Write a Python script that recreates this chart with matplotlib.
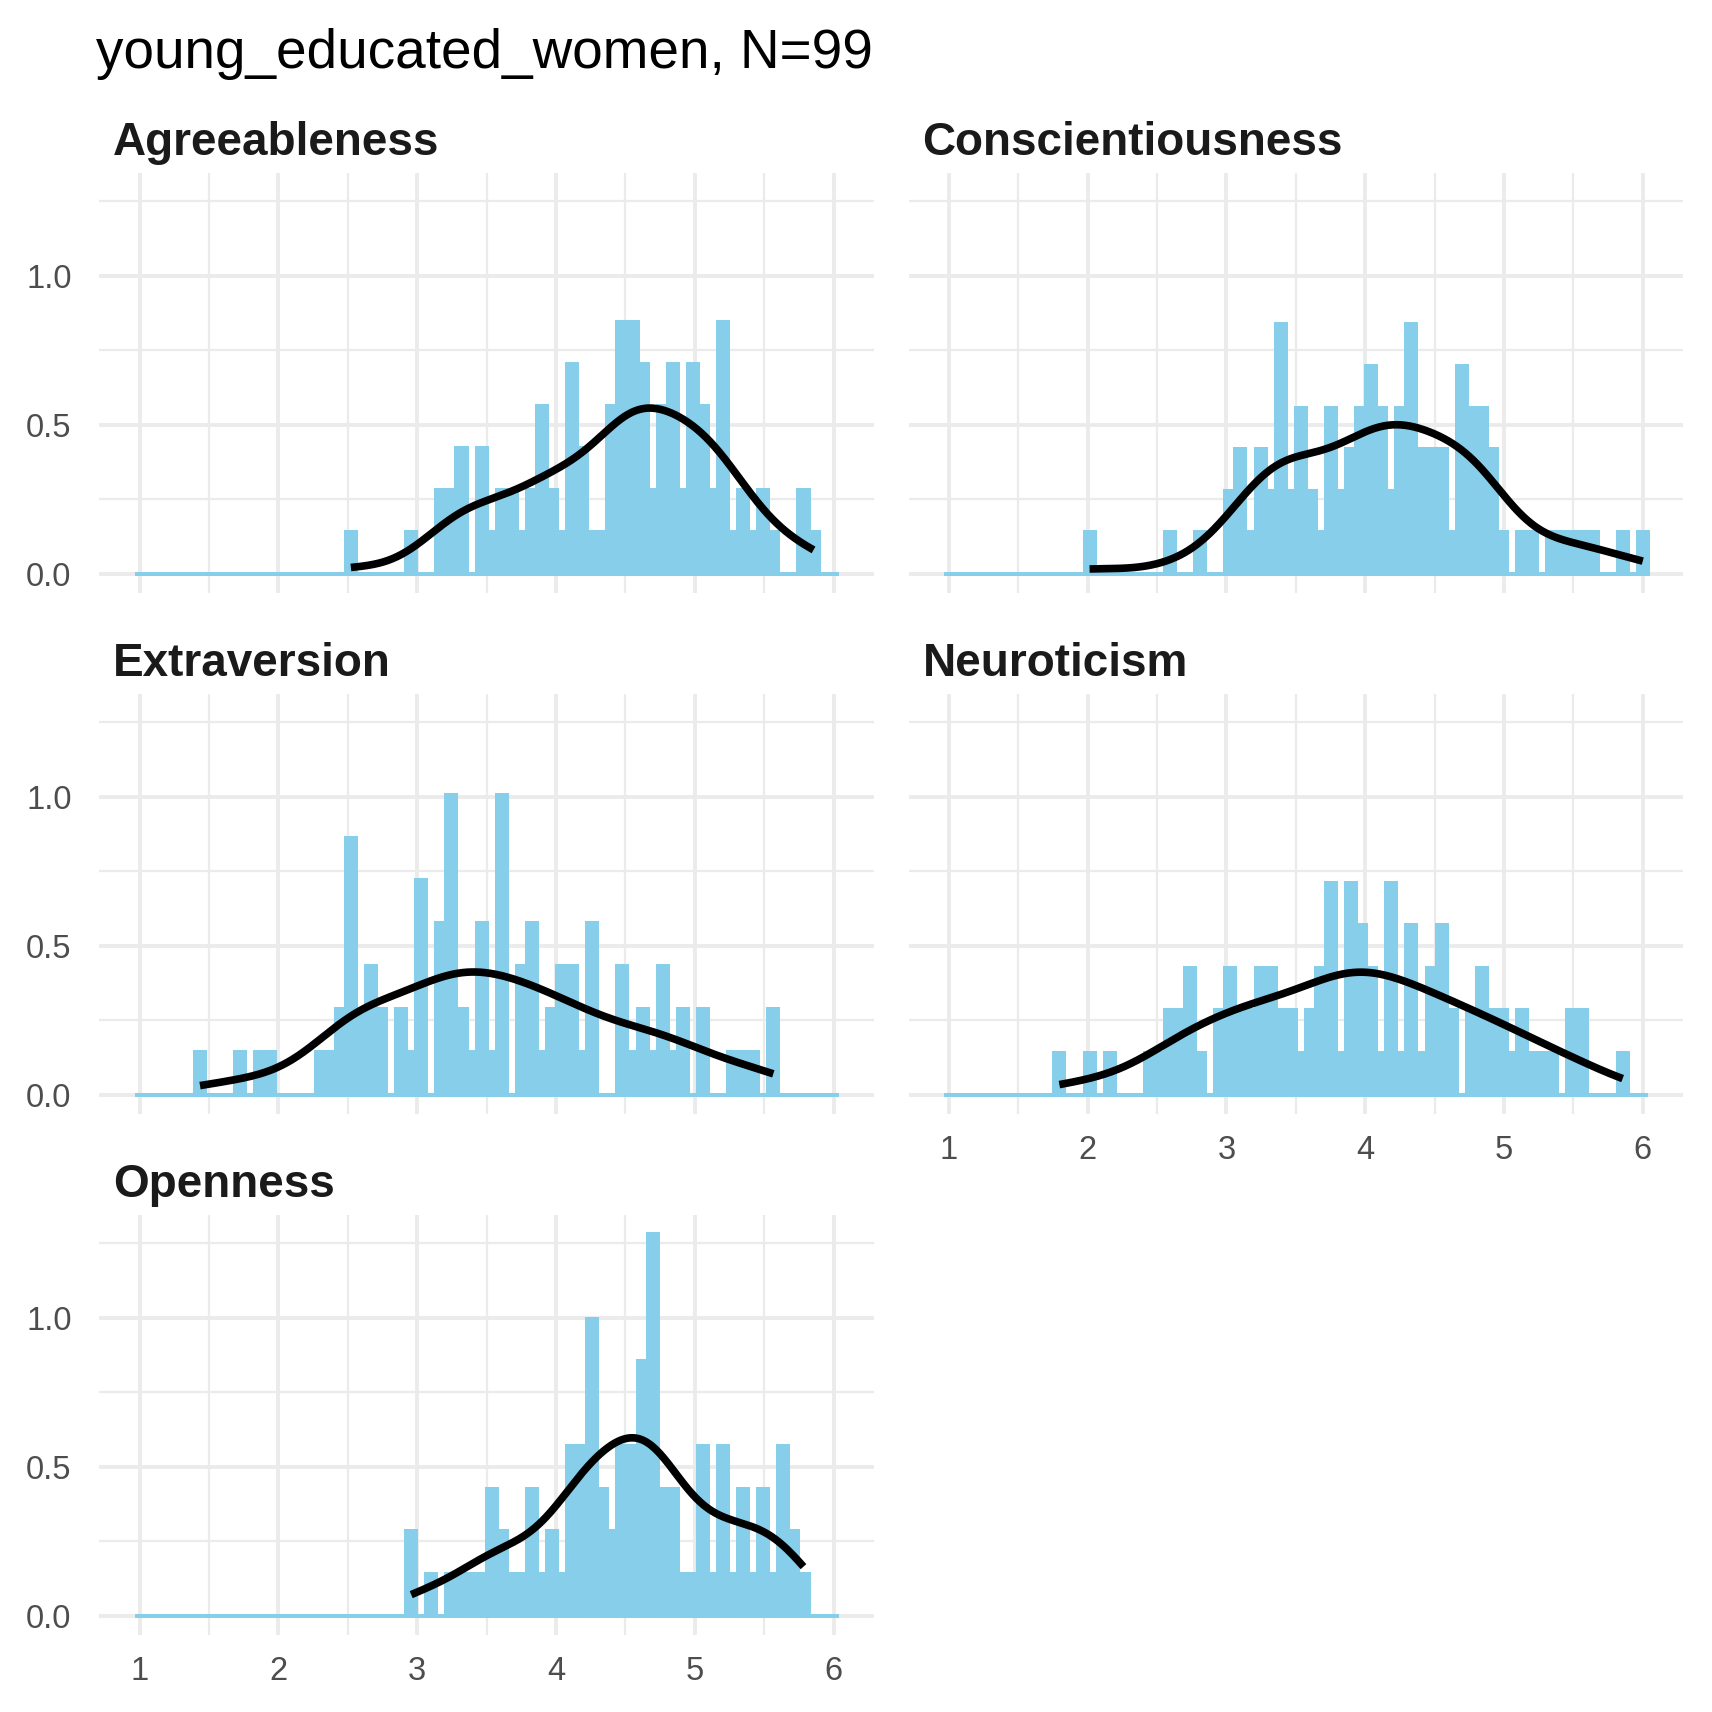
import numpy as np
import matplotlib
matplotlib.use("Agg")
import matplotlib.pyplot as plt
from matplotlib.ticker import FixedLocator, FormatStrFormatter

plt.rcParams['font.family'] = ['Liberation Sans', 'DejaVu Sans']

title = "young_educated_women, N=99"
traits = ["Agreeableness", "Conscientiousness", "Extraversion", "Neuroticism", "Openness"]

# counts per histogram bin, 70 bins centred on 1 .. 6
agreeableness = [0, 0, 0, 0, 0, 0, 0, 0, 0, 0,
                 0, 0, 0, 0, 0, 0, 0, 0, 0, 0,
                 0, 1, 0, 0, 0, 0, 0, 1, 0, 0,
                 2, 2, 3, 0, 3, 1, 2, 2, 1, 2,
                 4, 2, 1, 5, 3, 1, 1, 4, 6, 6,
                 5, 2, 4, 5, 2, 5, 4, 2, 6, 1,
                 2, 1, 2, 1, 0, 0, 2, 1, 0, 0]
conscientiousness = [0, 0, 0, 0, 0, 0, 0, 0, 0, 0,
                     0, 0, 0, 0, 1, 0, 0, 0, 0, 0,
                     0, 0, 1, 0, 0, 1, 0, 0, 2, 3,
                     1, 3, 2, 6, 2, 4, 2, 1, 4, 2,
                     3, 4, 5, 4, 2, 4, 6, 3, 3, 3,
                     1, 5, 4, 4, 3, 1, 0, 1, 1, 0,
                     1, 1, 1, 1, 1, 0, 0, 1, 0, 1]
extraversion = [0, 0, 0, 0, 0, 0, 1, 0, 0, 0,
                1, 0, 1, 1, 0, 0, 0, 0, 1, 1,
                2, 6, 2, 3, 2, 0, 2, 1, 5, 0,
                4, 7, 2, 1, 4, 1, 7, 0, 3, 4,
                1, 2, 3, 3, 1, 4, 0, 0, 3, 1,
                2, 1, 3, 1, 2, 0, 2, 0, 0, 1,
                1, 1, 0, 2, 0, 0, 0, 0, 0, 0]
neuroticism = [0, 0, 0, 0, 0, 0, 0, 0, 0, 0,
               0, 1, 0, 0, 1, 0, 1, 0, 0, 0,
               1, 1, 2, 2, 3, 1, 0, 2, 3, 2,
               2, 3, 3, 2, 2, 1, 2, 3, 5, 1,
               5, 4, 3, 1, 5, 1, 4, 1, 3, 4,
               2, 0, 2, 3, 2, 2, 1, 2, 1, 1,
               1, 0, 2, 2, 0, 0, 0, 1, 0, 0]
openness = [0, 0, 0, 0, 0, 0, 0, 0, 0, 0,
            0, 0, 0, 0, 0, 0, 0, 0, 0, 0,
            0, 0, 0, 0, 0, 0, 0, 2, 0, 1,
            0, 1, 1, 1, 1, 3, 2, 1, 1, 3,
            1, 2, 1, 4, 4, 7, 3, 2, 4, 4,
            6, 9, 3, 3, 1, 1, 4, 1, 4, 1,
            3, 1, 3, 1, 4, 2, 1, 0, 0, 0]
counts = [agreeableness, conscientiousness, extraversion, neuroticism, openness]

n_bins = 70
bin_w = (6 - 1) / (n_bins - 1)
centers = 1 + bin_w * np.arange(n_bins)


def bw_nrd0(x):
    sd = np.std(x, ddof=1)
    q75, q25 = np.percentile(x, [75, 25])
    return 0.9 * min(sd, (q75 - q25) / 1.34) * len(x) ** -0.2


def kde(x):
    bw = bw_nrd0(x)
    grid = np.linspace(x.min(), x.max(), 512)
    z = (grid[:, None] - x[None, :]) / bw
    d = np.exp(-0.5 * z ** 2).sum(axis=1) / (len(x) * bw * np.sqrt(2 * np.pi))
    return grid, d


hist = []
curves = []
for c in counts:
    c = np.array(c)
    hist.append(c / (c.sum() * bin_w))
    curves.append(kde(np.repeat(centers, c)))

ymax = max(max(h.max() for h in hist), max(d.max() for _, d in curves))
ylim = (-0.05 * ymax, 1.05 * ymax)
lo, hi = 1 - bin_w / 2, 6 + bin_w / 2
xlim = (lo - 0.05 * (hi - lo), hi + 0.05 * (hi - lo))

# layout in pixels of the 1712 x 1712 output
W = H = 1712
fig = plt.figure(figsize=(W / 100, H / 100), dpi=100)
col_left = [99.4, 908.5]
row_top = [172.7, 693.7, 1214.7]
pw, ph = 774.5, 420.4

grid_col = '#EBEBEB'
bar_col = '#87CEEB'

for i, name in enumerate(traits):
    r, cidx = divmod(i, 2)
    ax = fig.add_axes([col_left[cidx] / W, 1 - (row_top[r] + ph) / H, pw / W, ph / H])
    ax.set_xlim(xlim)
    ax.set_ylim(ylim)
    ax.set_axisbelow(True)

    ax.xaxis.set_major_locator(FixedLocator([1, 2, 3, 4, 5, 6]))
    ax.xaxis.set_minor_locator(FixedLocator([1.5, 2.5, 3.5, 4.5, 5.5]))
    ax.yaxis.set_major_locator(FixedLocator([0, 0.5, 1.0]))
    ax.yaxis.set_minor_locator(FixedLocator([0.25, 0.75, 1.25]))
    ax.yaxis.set_major_formatter(FormatStrFormatter('%.1f'))
    ax.grid(which='major', color=grid_col, linewidth=2.8)
    ax.grid(which='minor', color=grid_col, linewidth=1.6)
    for s in ax.spines.values():
        s.set_visible(False)
    ax.tick_params(which='both', length=0, labelsize=23.5, labelcolor='#4D4D4D')
    ax.tick_params(axis='y', pad=20)
    ax.tick_params(axis='x', pad=15)
    if cidx == 1:
        ax.tick_params(axis='y', labelleft=False)
    if name not in ("Neuroticism", "Openness"):
        ax.tick_params(axis='x', labelbottom=False)

    ax.bar(centers, hist[i], width=bin_w, color=bar_col, edgecolor=bar_col,
           linewidth=2.9, zorder=2)
    gx, gd = curves[i]
    ax.plot(gx, gd, color='black', linewidth=5.5, solid_capstyle='butt', zorder=3)

    ax.annotate(name, xy=(0, 1), xycoords='axes fraction', xytext=(10, 12.5),
                textcoords='offset points', fontsize=33, fontweight='bold',
                color='#1A1A1A', va='baseline', ha='left')

fig.text(95.5 / W, 1 - 68 / H, title, fontsize=39.5, va='baseline', ha='left')

fig.savefig('out.png', dpi=100, facecolor='white')
